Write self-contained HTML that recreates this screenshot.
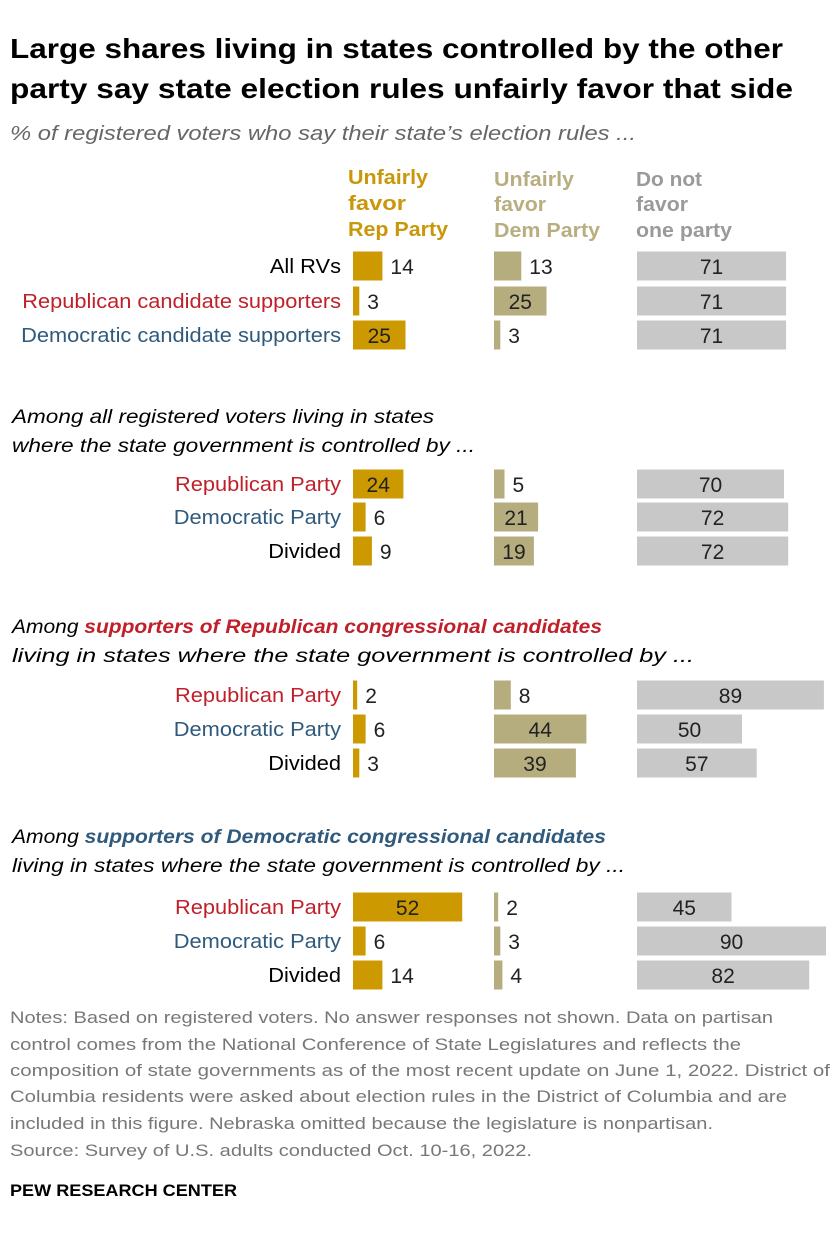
<!DOCTYPE html>
<html><head><meta charset="utf-8"><style>
html,body{margin:0;padding:0;background:#fff}
svg{display:block;font-family:"Liberation Sans",sans-serif}
</style></head><body>
<svg id="chart" width="840" height="1238" viewBox="0 0 840 1238">
<g font-weight="bold" font-size="28" fill="#000">
<text x="10" y="58" textLength="773" lengthAdjust="spacingAndGlyphs">Large shares living in states controlled by the other</text>
<text x="10" y="98" textLength="783" lengthAdjust="spacingAndGlyphs">party say state election rules unfairly favor that side</text>
</g>
<text x="10" y="140" font-size="20" font-style="italic" fill="#666" textLength="626" lengthAdjust="spacingAndGlyphs">% of registered voters who say their state’s election rules ...</text>
<g font-weight="bold" font-size="20">
<g fill="#c9970a"><text x="348" y="184" textLength="80" lengthAdjust="spacingAndGlyphs">Unfairly</text><text x="348" y="210" textLength="58" lengthAdjust="spacingAndGlyphs">favor</text><text x="348" y="236" textLength="100" lengthAdjust="spacingAndGlyphs">Rep Party</text></g>
<g fill="#b8ae80"><text x="494" y="186" textLength="80" lengthAdjust="spacingAndGlyphs">Unfairly</text><text x="494" y="211" textLength="52" lengthAdjust="spacingAndGlyphs">favor</text><text x="494" y="237" textLength="106" lengthAdjust="spacingAndGlyphs">Dem Party</text></g>
<g fill="#9a9a9a"><text x="636" y="186" textLength="66" lengthAdjust="spacingAndGlyphs">Do not</text><text x="636" y="211" textLength="52" lengthAdjust="spacingAndGlyphs">favor</text><text x="636" y="237" textLength="96" lengthAdjust="spacingAndGlyphs">one party</text></g>
</g>
<g font-size="19" font-style="italic" fill="#000">
<text x="12" y="423" textLength="422" lengthAdjust="spacingAndGlyphs">Among all registered voters living in states</text>
<text x="12" y="452" textLength="463" lengthAdjust="spacingAndGlyphs">where the state government is controlled by ...</text>
<text x="12" y="633" textLength="590" lengthAdjust="spacingAndGlyphs">Among <tspan fill="#c0202a" font-weight="bold">supporters of Republican congressional candidates</tspan></text>
<text x="12" y="662" textLength="682" lengthAdjust="spacingAndGlyphs">living in states where the state government is controlled by ...</text>
<text x="12" y="843" textLength="594" lengthAdjust="spacingAndGlyphs">Among <tspan fill="#305a7c" font-weight="bold">supporters of Democratic congressional candidates</tspan></text>
<text x="12" y="872" textLength="613" lengthAdjust="spacingAndGlyphs">living in states where the state government is controlled by ...</text>
</g>
<g id="bars"></g>
<g font-size="17" fill="#777">
<text x="10" y="1023" textLength="763" lengthAdjust="spacingAndGlyphs">Notes: Based on registered voters. No answer responses not shown. Data on partisan</text>
<text x="10" y="1050" textLength="731" lengthAdjust="spacingAndGlyphs">control comes from the National Conference of State Legislatures and reflects the</text>
<text x="10" y="1076" textLength="820" lengthAdjust="spacingAndGlyphs">composition of state governments as of the most recent update on June 1, 2022. District of</text>
<text x="10" y="1102" textLength="777" lengthAdjust="spacingAndGlyphs">Columbia residents were asked about election rules in the District of Columbia and are</text>
<text x="10" y="1129" textLength="703" lengthAdjust="spacingAndGlyphs">included in this figure. Nebraska omitted because the legislature is nonpartisan.</text>
<text x="10" y="1156" textLength="522" lengthAdjust="spacingAndGlyphs">Source: Survey of U.S. adults conducted Oct. 10-16, 2022.</text>
</g>
<text x="10" y="1196" font-size="17" font-weight="bold" fill="#000" textLength="227" lengthAdjust="spacingAndGlyphs">PEW RESEARCH CENTER</text>
</svg>
<script>
const categories = ["All RVs","Republican candidate supporters","Democratic candidate supporters","Republican Party","Democratic Party","Divided","Republican Party","Democratic Party","Divided","Republican Party","Democratic Party","Divided"];
const labelParty = ["n","r","d","r","d","n","r","d","n","r","d","n"];
const repValues = [14,3,25,24,6,9,2,6,3,52,6,14];
const demValues = [13,25,3,5,21,19,8,44,39,2,3,4];
const neitherValues = [71,71,71,70,72,72,89,50,57,45,90,82];
const rowY = [266,301,335,484,517,551,695,729,763,907,941,975];
const NS = "http://www.w3.org/2000/svg";
const g = document.getElementById("bars");
const unit = 2.1, barH = 29;
const colX = [353, 494, 637];
const colColors = ["#cc9900", "#b5ad7e", "#c8c8c8"];
const series = [repValues, demValues, neitherValues];
const seriesNames = ["rep", "dem", "neither"];
const labelColors = {n:"#000", r:"#c0202a", d:"#305a7c"};
function xScale(col, v){ return colX[col] + v*unit; }
function mk(tag, attrs){ const e=document.createElementNS(NS,tag); for(const k in attrs) e.setAttribute(k, attrs[k]); return e; }
categories.forEach((c,i)=>{
  const y = rowY[i];
  const t = mk("text",{x:341,y:y+7,"text-anchor":"end","font-size":20,fill:labelColors[labelParty[i]]});
  
  
  t.textContent = c;
  g.appendChild(t);
  const len = t.getComputedTextLength();
  t.setAttribute("textLength", (len*1.09).toFixed(1));
  t.setAttribute("lengthAdjust", "spacingAndGlyphs");
  series.forEach((s,col)=>{
    const v = s[i];
    const w = xScale(col, v) - colX[col];
    const r = mk("rect",{x:colX[col],y:y-barH/2,width:w,height:barH,fill:colColors[col]});
    
    
    g.appendChild(r);
    const inside = col === 2 || v >= 19;
    const lt = mk("text",{x: inside ? colX[col]+w/2 : colX[col]+w+8, y:y+8, "text-anchor": inside ? "middle":"start","font-size":21,fill:"#222"});
    
    
    lt.textContent = v;
    g.appendChild(lt);
  });
});
</script>
</body></html>
